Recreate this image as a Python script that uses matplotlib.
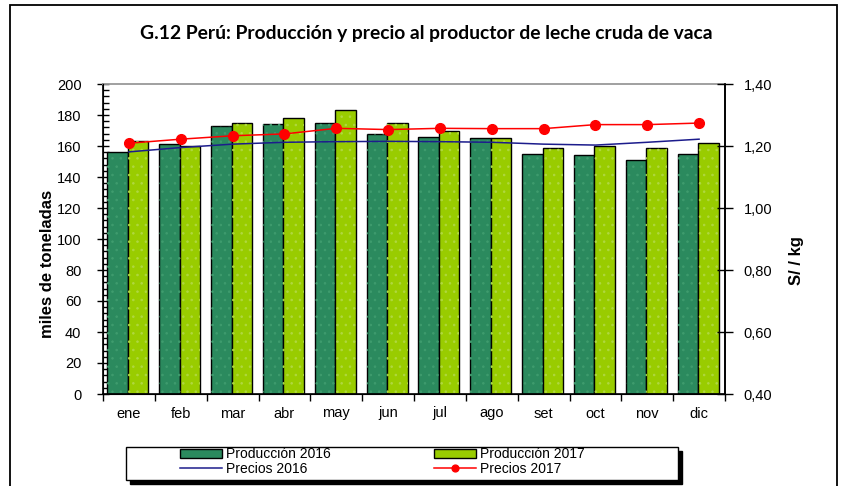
import matplotlib.pyplot as plt
import matplotlib.ticker as mticker
from matplotlib.patches import Rectangle
import numpy as np

# datos
meses = ['ene', 'feb', 'mar', 'abr', 'may', 'jun', 'jul', 'ago', 'set', 'oct', 'nov', 'dic']
prod_2016 = [156, 161, 173, 174, 175, 168, 166, 165, 155, 154, 151, 155]
prod_2017 = [163, 160, 175, 178, 183, 175, 170, 165, 159, 160, 159, 162]
precio_2016 = [1.181, 1.195, 1.206, 1.212, 1.214, 1.215, 1.214, 1.212, 1.206, 1.203, 1.212, 1.222]
precio_2017 = [1.209, 1.222, 1.233, 1.239, 1.257, 1.253, 1.257, 1.256, 1.256, 1.269, 1.269, 1.274]

W, H = 843, 486
fig = plt.figure(figsize=(W / 100, H / 100), dpi=100)
fig.patch.set_facecolor('white')

# marco exterior
fig.patches.append(Rectangle((10 / W, -0.05), 827 / W, 1.05 - 5 / H, transform=fig.transFigure,
                             fill=False, edgecolor='black', lw=1.3))

ax = fig.add_axes([103 / W, 1 - 394 / H, 622 / W, 310 / H])
x = np.arange(len(meses))
bw = 0.395
c16, c17 = '#2b8a5e', '#99cc00'
b16 = ax.bar(x - bw / 2 - 0.02, prod_2016, bw, color=c16, edgecolor='black', lw=1, zorder=2,
             label='Producción 2016')
b17 = ax.bar(x + bw / 2 - 0.02, prod_2017, bw, color=c17, edgecolor='black', lw=1, zorder=2,
             label='Producción 2017')
# punteado suave de las barras
plt.rcParams['hatch.linewidth'] = 0.6
ax.bar(x - bw / 2 - 0.02, prod_2016, bw, color='none', edgecolor='#3f9c6e', lw=0, hatch='..', zorder=2.5)
ax.bar(x + bw / 2 - 0.02, prod_2017, bw, color='none', edgecolor='#b0d840', lw=0, hatch='..', zorder=2.5)

ax.set_xlim(-0.5, len(meses) - 0.5)
ax.set_ylim(0, 200)
ax.set_xticks(x)
ax.set_xticklabels(meses, fontsize=10.5, family='Liberation Sans')
ax.set_xticks(np.arange(-0.5, len(meses), 1), minor=True)
ax.tick_params(axis='x', which='major', length=0, pad=9)
ax.tick_params(axis='x', which='minor', length=5, direction='out', width=1)
ax.set_yticks(np.arange(0, 201, 20))
ax.yaxis.set_minor_locator(mticker.MultipleLocator(4))
ax.tick_params(axis='y', which='major', direction='inout', length=9, width=1, labelsize=10.5, pad=11)
ax.tick_params(axis='y', which='minor', direction='in', length=4, width=1)
for lab in ax.get_yticklabels():
    lab.set_family('Liberation Sans')
ax.spines['top'].set_color('#999999')
ax.spines['top'].set_linewidth(1.3)
for s in ['left', 'bottom', 'right']:
    ax.spines[s].set_linewidth(1.2)
ax.set_ylabel('miles de toneladas', fontsize=12, fontweight='bold', family='Liberation Sans')
ax.yaxis.set_label_coords(-0.077, 0.42)

ax2 = ax.twinx()
l16, = ax2.plot(x, precio_2016, color='#1c1c8c', lw=1.1, zorder=3, label='Precios 2016')
l17, = ax2.plot(x, precio_2017, color='#ff0000', lw=1.1, marker='o', markersize=7, zorder=4,
                label='Precios 2017')
ax2.set_ylim(0.40, 1.40)
ax2.set_yticks(np.arange(0.4, 1.41, 0.2))
ax2.yaxis.set_major_formatter(mticker.FuncFormatter(lambda v, p: f'{v:.2f}'.replace('.', ',')))
ax2.tick_params(axis='y', direction='inout', length=11, width=1, labelsize=10.5, pad=8)
for lab in ax2.get_yticklabels():
    lab.set_family('Liberation Sans')
ax2.spines['top'].set_visible(False)
ax2.spines['right'].set_linewidth(1.2)
ax2.set_ylabel('S/ / kg', fontsize=12, fontweight='bold', family='Liberation Sans', rotation=90)
ax2.yaxis.set_label_coords(1.103, 0.43)

fig.text(426 / W, 1 - 33 / H, 'G.12 Perú: Producción y precio al productor de leche cruda de vaca',
         ha='center', va='center', fontsize=13.9, fontweight='bold', family='Lato')

# caja de leyenda con sombra
fig.patches.append(Rectangle((130 / W, 1 - 484 / H), 552 / W, 33 / H, transform=fig.transFigure,
                             facecolor='black', edgecolor='black', zorder=5))
fig.patches.append(Rectangle((126 / W, 1 - 480 / H), 552 / W, 33 / H, transform=fig.transFigure,
                             facecolor='white', edgecolor='black', lw=1, zorder=6))
leg = fig.legend([b16, l16, b17, l17],
                 ['Producción 2016', 'Precios 2016', 'Producción 2017', 'Precios 2017'],
                 ncol=2, loc='upper left', bbox_to_anchor=(180 / W, 1 - 447 / H),
                 frameon=False, prop={'family': 'Liberation Sans', 'size': 10},
                 handlelength=3.0, handleheight=0.6, handletextpad=0.3, markerscale=0.7,
                 labelspacing=0.05, columnspacing=7.45, borderpad=0, borderaxespad=0)
leg.set_zorder(7)

fig.savefig('out.png', dpi=100, facecolor='white')
